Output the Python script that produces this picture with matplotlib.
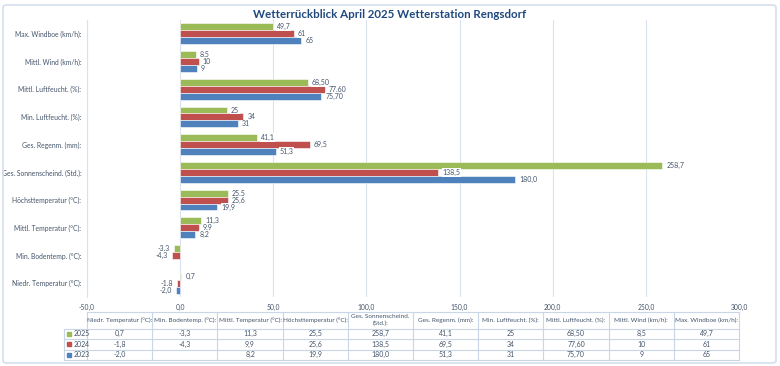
"""Wetterrueckblick April 2025 - horizontal bar chart with data table."""

import matplotlib.pyplot as plt
import matplotlib.transforms as mtransforms
import numpy as np
from matplotlib.patches import FancyBboxPatch

plt.rcParams["font.family"] = ["Lato", "DejaVu Sans"]

# categories, bottom to top (= table columns left to right)
categories = [
    "Niedr. Temperatur (°C):",
    "Min. Bodentemp. (°C):",
    "Mittl. Temperatur (°C):",
    "Höchsttemperatur (°C):",
    "Ges. Sonnenscheind. (Std.):",
    "Ges. Regenm. (mm):",
    "Min. Luftfeucht. (%):",
    "Mittl. Luftfeucht. (%):",
    "Mittl. Wind (km/h):",
    "Max. Windboe (km/h):",
]
table_headers = [
    "Niedr. Temperatur (°C):",
    "Min. Bodentemp. (°C):",
    "Mittl. Temperatur (°C):",
    "Höchsttemperatur (°C):",
    "Ges. Sonnenscheind.\n(Std.):",
    "Ges. Regenm. (mm):",
    "Min. Luftfeucht. (%):",
    "Mittl. Luftfeucht. (%):",
    "Mittl. Wind (km/h):",
    "Max. Windboe (km/h):",
]
years = ["2025", "2024", "2023"]
values_2025 = [0.7, -3.3, 11.3, 25.5, 258.7, 41.1, 25, 68.50, 8.5, 49.7]
values_2024 = [-1.8, -4.3, 9.9, 25.6, 138.5, 69.5, 34, 77.60, 10, 61]
values_2023 = [-2.0, np.nan, 8.2, 19.9, 180.0, 51.3, 31, 75.70, 9, 65]
labels_2025 = ["0,7", "-3,3", "11,3", "25,5", "258,7", "41,1", "25", "68,50", "8,5", "49,7"]
labels_2024 = ["-1,8", "-4,3", "9,9", "25,6", "138,5", "69,5", "34", "77,60", "10", "61"]
labels_2023 = ["-2,0", "", "8,2", "19,9", "180,0", "51,3", "31", "75,70", "9", "65"]
x_ticks = [-50, 0, 50, 100, 150, 200, 250, 300]
x_tick_labels = ["-50,0", "0,0", "50,0", "100,0", "150,0", "200,0", "250,0", "300,0"]

colors = ["#9BBB59", "#C0504D", "#4F81BD"]
text_color = "#44546A"
grid_color = "#D9E1EE"
line_color = "#C9D6E8"

W, H = 780, 366
fig = plt.figure(figsize=(W / 100, H / 100), dpi=100)
fig.patch.set_facecolor("white")
fig.patches.append(
    FancyBboxPatch((3 / W, 3 / H), 1 - 7 / W, 1 - 8 / H, boxstyle="round,pad=0,rounding_size=0.006",
                   transform=fig.transFigure, fill=False, edgecolor="#D5DFEC", linewidth=1.2)
)

ax = fig.add_axes([87 / W, 1 - 297 / H, (739 - 87) / W, (297 - 20) / H])

y = np.arange(len(categories))
h = 0.25
series = [values_2025, values_2024, values_2023]
series_labels = [labels_2025, labels_2024, labels_2023]
offsets = [h, 0, -h]
for vals, labs, off, col in zip(series, series_labels, offsets, colors):
    ax.barh(y + off, vals, height=h, color=col, edgecolor="white", linewidth=0.4, zorder=3)
    for yi, v, lab in zip(y, vals, labs):
        if not lab:
            continue
        ha = "left" if v >= 0 else "right"
        dx = 2.2 if v >= 0 else -2.2
        ax.text(v + dx, yi + off, lab, ha=ha, va="center", fontsize=5.0, color=text_color,
                zorder=4, bbox=dict(boxstyle="square,pad=0.1", facecolor="white", edgecolor="none"))

ax.set_xlim(-50, 300)
ax.set_ylim(-0.5, len(categories) - 0.5)
ax.set_xticks(x_ticks)
ax.set_xticklabels(x_tick_labels)
ax.set_yticks(y)
ax.set_yticklabels(categories)
ax.tick_params(axis="both", length=0, labelsize=4.9, labelcolor=text_color)
ax.tick_params(axis="x", pad=5)
ax.tick_params(axis="y", pad=4)
ax.grid(axis="x", color=grid_color, linewidth=0.8, zorder=0)
for side in ["top", "right", "bottom"]:
    ax.spines[side].set_visible(False)
ax.spines["left"].set_color(grid_color)

fig.text(0.5, 1 - 14 / H, "Wetterrückblick April 2025 Wetterstation Rengsdorf", ha="center", va="center",
         fontsize=8.3, fontweight="bold", color="#1F497D")

# data table below the axis, columns in data x, rows in figure y
trans = mtransforms.blended_transform_factory(ax.transData, fig.transFigure)
row_px = [311.5, 328.5, 339, 349.5, 360]
row_y = [1 - p / H for p in row_px]
col_w = 350 / len(categories)
col_edges = [-50 + col_w * i for i in range(len(categories) + 1)]
left_edge = -50 - 23 * 350 / (739 - 87)

lw = 0.8
ax.plot([col_edges[0], col_edges[-1]], [row_y[0]] * 2, transform=trans, color=line_color, lw=lw, clip_on=False)
for ry in row_y[1:]:
    ax.plot([left_edge, col_edges[-1]], [ry] * 2, transform=trans, color=line_color, lw=lw, clip_on=False)
for cx in col_edges:
    ax.plot([cx, cx], [row_y[0], row_y[-1]], transform=trans, color=line_color, lw=lw, clip_on=False)
ax.plot([left_edge, left_edge], [row_y[1], row_y[-1]], transform=trans, color=line_color, lw=lw, clip_on=False)

for i, head in enumerate(table_headers):
    cx = col_edges[i] + col_w / 2
    ax.text(cx, (row_y[0] + row_y[1]) / 2, head, transform=trans, ha="center", va="center",
            fontsize=4.6, color=text_color, linespacing=1.3, clip_on=False)
for r, (year, labs, col) in enumerate(zip(years, series_labels, colors)):
    cy = (row_y[r + 1] + row_y[r + 2]) / 2
    ax.plot([left_edge + 2.6], [cy], transform=trans, marker="s", markersize=2.6, color=col,
            linestyle="none", clip_on=False)
    ax.text(left_edge + 5, cy, year, transform=trans, ha="left", va="center", fontsize=5.0,
            color=text_color, clip_on=False)
    for i, lab in enumerate(labs):
        ax.text(col_edges[i] + col_w / 2, cy, lab, transform=trans, ha="center", va="center",
                fontsize=5.0, color=text_color, clip_on=False)

fig.savefig("out.png", dpi=100, facecolor="white")
